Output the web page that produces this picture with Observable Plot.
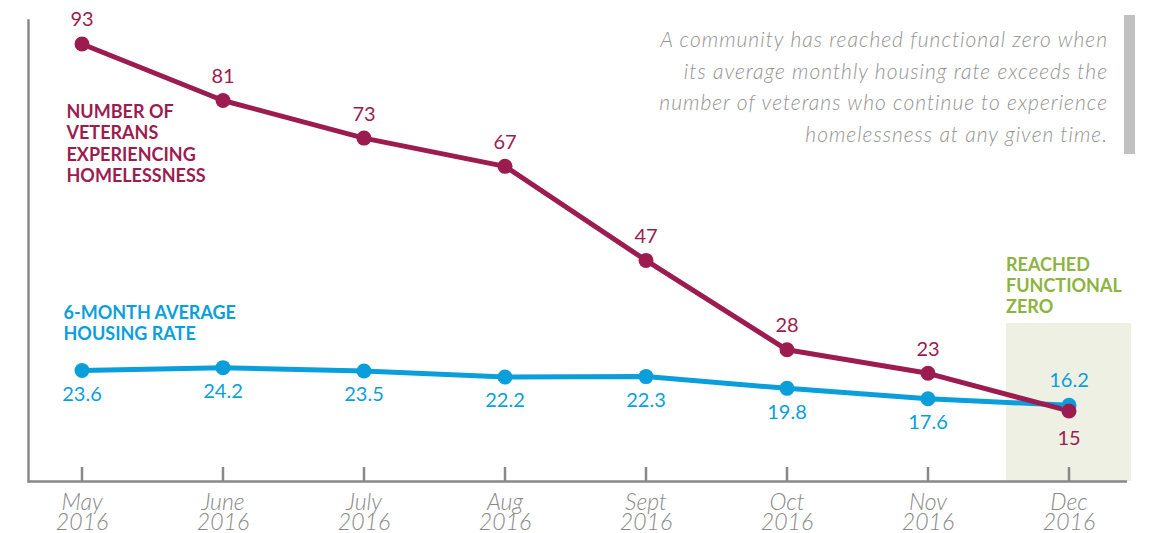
<!DOCTYPE html>
<html>
<head>
<meta charset="utf-8">
<script src="https://cdn.jsdelivr.net/npm/d3@7"></script>
<script src="https://cdn.jsdelivr.net/npm/@observablehq/plot@0.6"></script>
<style>
  body { margin: 0; background: #fff; }
  #wrap { position: relative; width: 1154px; height: 533px; }
  #note {
    position: absolute; top: 15px; right: 19px;
    padding: 8px 16px 5px 0;
    border-right: 11px solid #c0c0c0;
    font-family: Lato, sans-serif; font-style: italic; font-weight: 300;
    font-size: 21px; line-height: 31.5px; letter-spacing: 1px;
    color: #939393; text-align: right; white-space: nowrap;
  }
</style>
</head>
<body>
<div id="wrap">
  <div id="chart"></div>
  <div id="note">A community has reached functional zero when<br>its average monthly housing rate exceeds the<br>number of veterans who continue to experience<br>homelessness at any given time.</div>
</div>
<script>
// Monthly counts, May–Dec 2016
const months = ["May", "June", "July", "Aug", "Sept", "Oct", "Nov", "Dec"];
const year = "2016";
const veterans = [93, 81, 73, 67, 47, 28, 23, 15];
const housingRate = [23.6, 24.2, 23.5, 22.2, 22.3, 19.8, 17.6, 16.2];

const veteransLabel = "NUMBER OF\nVETERANS\nEXPERIENCING\nHOMELESSNESS";
const rateLabel = "6-MONTH AVERAGE\nHOUSING RATE";
const zeroLabel = "REACHED\nFUNCTIONAL\nZERO";
const zeroMonth = "Dec";

const RED = "#9d1c50";
const BLUE = "#0a9fdb";
const GREEN = "#8cb43f";
const AXIS = "#888888";
const SHADE = "#eff0e4";

const rows = months.map((month, i) => ({
  month,
  veterans: veterans[i],
  rate: housingRate[i],
  last: i === months.length - 1
}));
const shadeTop = 33.6; // top edge of the highlighted panel, in y units

const nameStyle = { fontWeight: 700, fontSize: 18, lineHeight: 1.19, style: "letter-spacing:0.4px" };

const chart = Plot.plot({
  width: 1154,
  height: 533,
  marginLeft: 28,
  marginRight: 27,
  marginTop: 20,
  marginBottom: 52,
  style: { fontFamily: "Lato, sans-serif", background: "transparent", overflow: "visible" },
  x: { type: "band", domain: months, range: [18.5, 1131.5], paddingInner: 0.113, paddingOuter: 0, label: null },
  y: { domain: [0, 98], axis: null },
  marks: [
    Plot.barY([zeroMonth], { x: (d) => d, y1: 0, y2: shadeTop, fill: SHADE }),
    Plot.ruleY([0], { stroke: AXIS, strokeWidth: 2.5 }),
    Plot.frame({ anchor: "left", stroke: AXIS, strokeWidth: 2.5 }),
    Plot.tickX(months, { x: (d) => d, stroke: AXIS, strokeWidth: 2.5, insetTop: 447 }),
    Plot.axisX({
      tickSize: 0, tickPadding: 14,
      tickFormat: (m) => `${m}\n${year}`,
      fontSize: 23, fontStyle: "italic", fontWeight: 300,
      color: AXIS, lineHeight: 0.87, style: "letter-spacing:1px"
    }),
    Plot.line(rows, { x: "month", y: "rate", stroke: BLUE, strokeWidth: 5 }),
    Plot.line(rows, { x: "month", y: "veterans", stroke: RED, strokeWidth: 5 }),
    Plot.dot(rows, { x: "month", y: "rate", r: 7.5, fill: BLUE }),
    Plot.dot(rows, { x: "month", y: "veterans", r: 7.5, fill: RED }),
    // value labels: veterans above the line, rate below, swapped where they cross
    Plot.text(rows.filter((d) => !d.last), { x: "month", y: "veterans", text: (d) => String(d.veterans), dy: -24, fill: RED, fontSize: 20 }),
    Plot.text(rows.filter((d) => d.last), { x: "month", y: "veterans", text: (d) => String(d.veterans), dy: 28, fill: RED, fontSize: 20 }),
    Plot.text(rows.filter((d) => !d.last), { x: "month", y: "rate", text: (d) => d.rate.toFixed(1), dy: 24, fill: BLUE, fontSize: 20 }),
    Plot.text(rows.filter((d) => d.last), { x: "month", y: "rate", text: (d) => d.rate.toFixed(1), dy: -25, fill: BLUE, fontSize: 20 }),
    // series names
    Plot.text([veteransLabel], {
      frameAnchor: "top-left", text: (d) => d, textAnchor: "start", lineAnchor: "top",
      dx: 38, dy: 82, fill: RED, ...nameStyle
    }),
    Plot.text([rateLabel], {
      frameAnchor: "top-left", text: (d) => d, textAnchor: "start", lineAnchor: "top",
      dx: 35, dy: 283, fill: BLUE, ...nameStyle
    }),
    Plot.text([zeroLabel], {
      x: () => zeroMonth, y: shadeTop, text: (d) => d,
      textAnchor: "start", lineAnchor: "top", dx: -63, dy: -68,
      fill: GREEN, ...nameStyle
    })
  ]
});
document.getElementById("chart").append(chart);
</script>
</body>
</html>
